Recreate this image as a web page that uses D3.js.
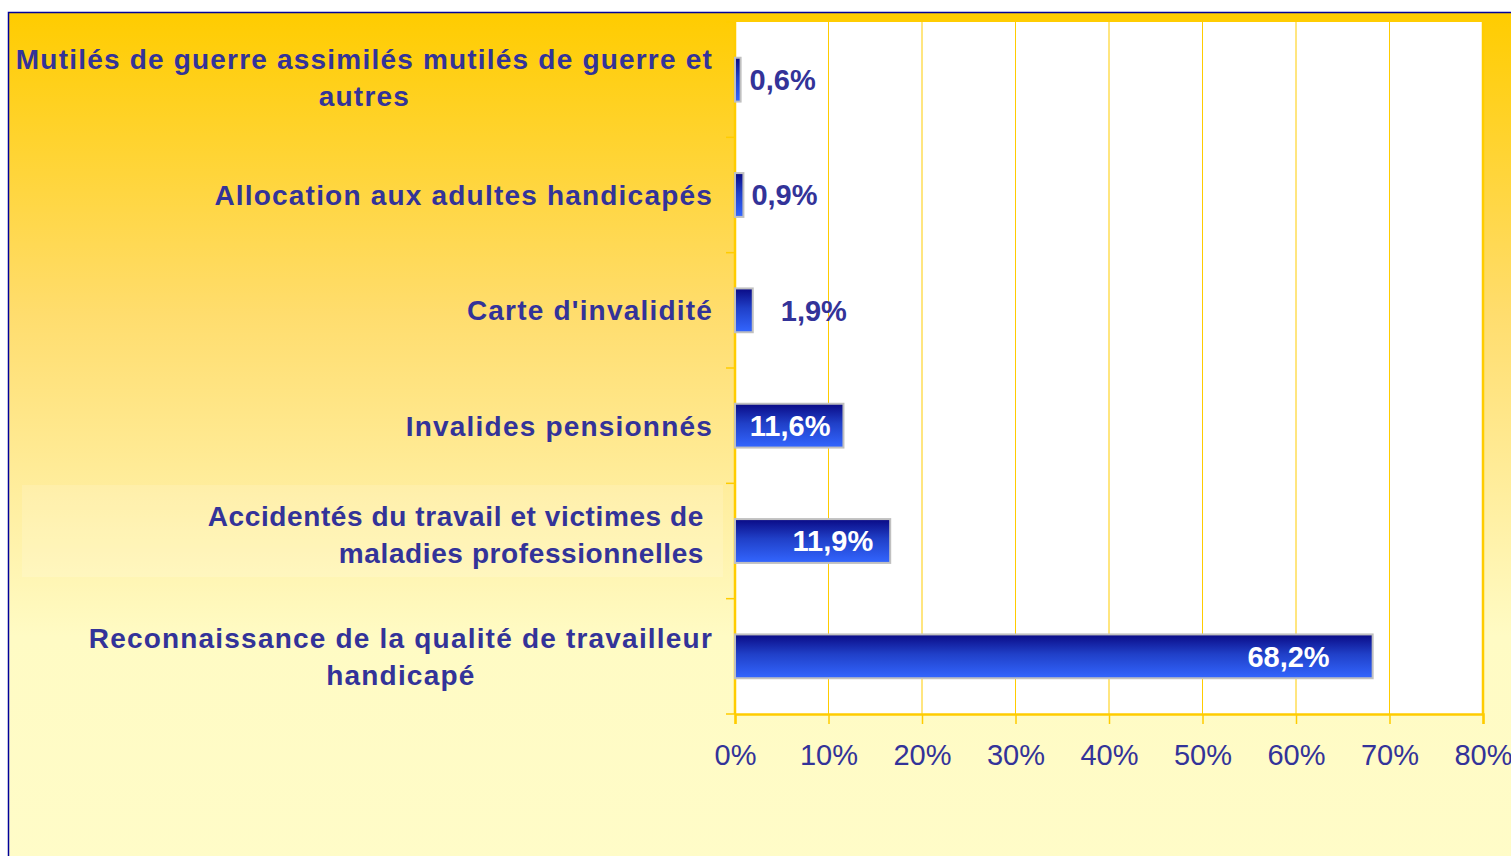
<!DOCTYPE html>
<html>
<head>
<meta charset="utf-8">
<script src="https://cdn.jsdelivr.net/npm/d3@7"></script>
<style>
  html, body { margin: 0; padding: 0; background: #fff; }
  svg { display: block; }
  text { font-family: "Liberation Sans", Arial, sans-serif; }
</style>
</head>
<body>
<div id="chart"></div>
<script>
// categories, top to bottom, each split into its display lines
var categories = [
  ["Mutilés de guerre assimilés mutilés de guerre et", "autres"],
  ["Allocation aux adultes handicapés"],
  ["Carte d'invalidité"],
  ["Invalides pensionnés"],
  ["Accidentés du travail et victimes de", "maladies professionnelles"],
  ["Reconnaissance de la qualité de travailleur", "handicapé"]
];
// bar lengths as drawn in the picture (%)
var values = [0.6, 0.9, 1.9, 11.6, 16.6, 68.2];
// printed data labels
var valueLabels = ["0,6%", "0,9%", "1,9%", "11,6%", "11,9%", "68,2%"];
var tickValues = [0, 10, 20, 30, 40, 50, 60, 70, 80];

const W = 1511;
const H = 856;
const ink = "#333399";
const gold = "#ffcc00";

var margin = { left: 735, right: 28, top: 22, bottom: 142 };
var pw = W - margin.left - margin.right;
var ph = H - margin.top - margin.bottom;

var svg = d3.select("#chart").append("svg")
  .attr("width", W)
  .attr("height", H);

var defs = svg.append("defs");

var bg = defs.append("linearGradient")
  .attr("id", "bg").attr("x1", 0).attr("y1", 0).attr("x2", 0).attr("y2", 1);
bg.append("stop").attr("offset", "0").attr("stop-color", "#ffcc00");
bg.append("stop").attr("offset", "0.35").attr("stop-color", "#ffdd6e");
bg.append("stop").attr("offset", "0.72").attr("stop-color", "#fffbc4");
bg.append("stop").attr("offset", "1").attr("stop-color", "#fffcc8");

var barGrad = defs.append("linearGradient")
  .attr("id", "bar").attr("x1", 0).attr("y1", 0).attr("x2", 0).attr("y2", 1);
barGrad.append("stop").attr("offset", "0").attr("stop-color", "#0a0a85");
barGrad.append("stop").attr("offset", "0.45").attr("stop-color", "#2040c8");
barGrad.append("stop").attr("offset", "1").attr("stop-color", "#3366ff");

// page background with thin navy frame
svg.append("rect")
  .attr("x", 8.5).attr("y", 12.5)
  .attr("width", W + 10).attr("height", H + 10)
  .attr("fill", "url(#bg)")
  .attr("stroke", "#000099")
  .attr("stroke-width", 1.5);

var g = svg.append("g")
  .attr("transform", "translate(" + margin.left + "," + margin.top + ")");

var x = d3.scaleLinear().domain([0, 80]).range([0, pw]);
var y = d3.scaleBand()
  .domain(d3.range(categories.length))
  .range([0, ph])
  .paddingInner(0.62)
  .paddingOuter(0.31);

// plot area
g.append("rect")
  .attr("width", pw).attr("height", ph)
  .attr("fill", "#fff");

// vertical gridlines
g.selectAll(".grid")
  .data(tickValues.slice(1))
  .enter().append("line")
  .attr("x1", function (d) { return x(d); })
  .attr("x2", function (d) { return x(d); })
  .attr("y1", 0).attr("y2", ph)
  .attr("stroke", gold)
  .attr("stroke-width", function (d) { return d === 80 ? 2.5 : 1; });

// x axis
var xAxis = g.append("g")
  .attr("transform", "translate(0," + ph + ")")
  .call(d3.axisBottom(x)
    .tickValues(tickValues)
    .tickFormat(function (d) { return d + "%"; })
    .tickSize(10)
    .tickPadding(20));
xAxis.select(".domain").attr("stroke", gold).attr("stroke-width", 2.5);
xAxis.selectAll(".tick line").attr("stroke", gold).attr("stroke-width", 1.5);
xAxis.selectAll(".tick text")
  .attr("fill", ink)
  .attr("font-size", 29)
  .attr("font-family", "Liberation Sans, Arial, sans-serif");

// y axis: band boundary ticks
var step = ph / categories.length;
g.append("line")
  .attr("x1", 0).attr("x2", 0).attr("y1", 0).attr("y2", ph)
  .attr("stroke", gold).attr("stroke-width", 2.5);
g.selectAll(".ytick")
  .data(d3.range(categories.length + 1))
  .enter().append("line")
  .attr("x1", -9).attr("x2", 0)
  .attr("y1", function (i) { return i * step; })
  .attr("y2", function (i) { return i * step; })
  .attr("stroke", gold).attr("stroke-width", 1.5);

// bars
g.selectAll(".bar")
  .data(values)
  .enter().append("rect")
  .attr("x", 0)
  .attr("y", function (d, i) { return y(i); })
  .attr("width", function (d) { return x(d); })
  .attr("height", y.bandwidth())
  .attr("fill", "url(#bar)")
  .attr("stroke", "#c0c0c0")
  .attr("stroke-width", 2);

// value labels: small ones outside, big ones inside in white
var labelPos = [
  { dx: 9, anchor: "start", inside: false },
  { dx: 8, anchor: "start", inside: false },
  { dx: 28, anchor: "start", inside: false },
  { dx: -13, anchor: "end", inside: true },
  { dx: -17, anchor: "end", inside: true },
  { dx: -43, anchor: "end", inside: true }
];
g.selectAll(".val")
  .data(values)
  .enter().append("text")
  .attr("x", function (d, i) { return x(d) + labelPos[i].dx; })
  .attr("y", function (d, i) { return y(i) + y.bandwidth() / 2; })
  .attr("dy", "0.36em")
  .attr("text-anchor", function (d, i) { return labelPos[i].anchor; })
  .attr("fill", function (d, i) { return labelPos[i].inside ? "#fff" : ink; })
  .attr("font-size", 29)
  .attr("font-weight", "bold")
  .text(function (d, i) { return valueLabels[i]; });

// faint highlight box behind the fifth category label
svg.append("rect")
  .attr("x", 22).attr("y", margin.top + y(4) - 34)
  .attr("width", 701).attr("height", 92)
  .attr("fill", "#fff").attr("opacity", 0.15);

// category labels
var labelRight = [713, 713, 713, 713, 704, 713];
var labelShift = [-2, 0, 0, 0, -7, 0];
var lineH = 37;
categories.forEach(function (lines, i) {
  var cy = margin.top + y(i) + y.bandwidth() / 2 + labelShift[i];
  var t = svg.append("text")
    .attr("fill", ink)
    .attr("font-size", 28)
    .attr("font-weight", "bold")
    .attr("letter-spacing", i === 4 ? 0.6 : 1.2);
  var spans = lines.map(function (s, k) {
    return t.append("tspan")
      .attr("y", cy + (k - (lines.length - 1) / 2) * lineH)
      .attr("dy", "0.36em")
      .text(s);
  });
  var maxW = d3.max(spans, function (s) { return s.node().getComputedTextLength(); });
  if (i === 4) {
    spans.forEach(function (s) { s.attr("x", labelRight[i]).attr("text-anchor", "end"); });
  } else {
    spans.forEach(function (s) { s.attr("x", labelRight[i] - maxW / 2).attr("text-anchor", "middle"); });
  }
});
</script>
</body>
</html>
